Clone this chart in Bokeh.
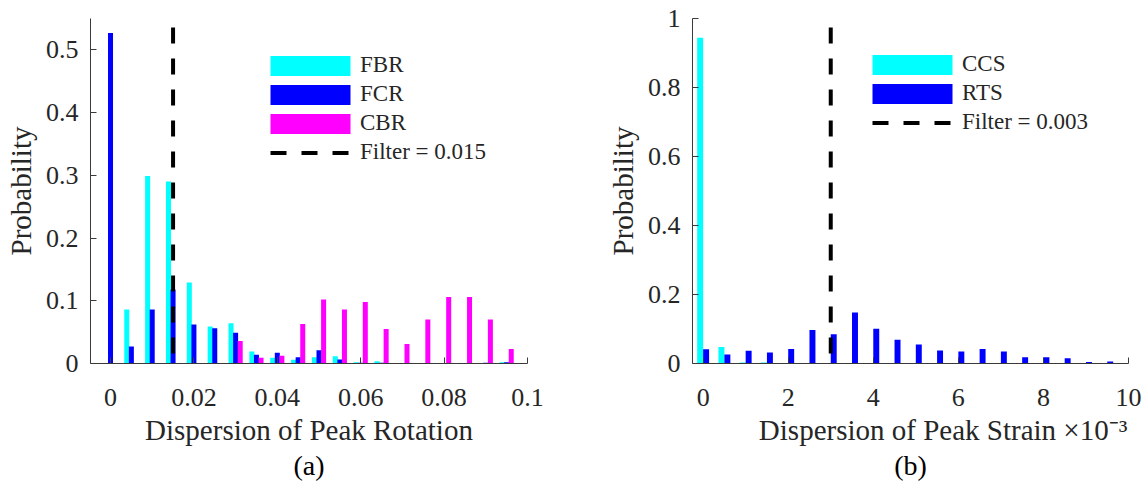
from bokeh.plotting import figure
from bokeh.models import Range1d, FixedTicker, Legend, LegendItem, Title
from bokeh.layouts import row
from bokeh.embed import file_html
from bokeh.resources import INLINE

# ---------------- data (a) ----------------
bins_a = [0.000, 0.005, 0.010, 0.015, 0.020, 0.025, 0.030, 0.035, 0.040, 0.045,
          0.050, 0.055, 0.060, 0.065, 0.070, 0.075, 0.080, 0.085, 0.090, 0.095]
fbr = [0.0, 0.086, 0.299, 0.290, 0.129, 0.059, 0.064, 0.019, 0.009, 0.006,
       0.010, 0.0115, 0.002, 0.0036, 0.0, 0.0, 0.0, 0.0, 0.0, 0.002]
fcr = [0.527, 0.027, 0.086, 0.118, 0.062, 0.056, 0.049, 0.014, 0.017, 0.010,
       0.021, 0.0063, 0.001, 0.001, 0.0, 0.0, 0.0, 0.0, 0.001, 0.002]
cbr = [0.0, 0.0, 0.0, 0.0, 0.0, 0.0, 0.036, 0.009, 0.0125, 0.063,
       0.102, 0.086, 0.098, 0.055, 0.031, 0.070, 0.106, 0.106, 0.070, 0.023]
filter_a = 0.015
xticks_a = [0, 0.02, 0.04, 0.06, 0.08, 0.1]
xlabels_a = ["0", "0.02", "0.04", "0.06", "0.08", "0.1"]
yticks_a = [0, 0.1, 0.2, 0.3, 0.4, 0.5]
ylabels_a = ["0", "0.1", "0.2", "0.3", "0.4", "0.5"]

# ---------------- data (b) ----------------  (x in units of 1e-3)
bins_b = [0.0, 0.5, 1.0, 1.5, 2.0, 2.5, 3.0, 3.5, 4.0, 4.5,
          5.0, 5.5, 6.0, 6.5, 7.0, 7.5, 8.0, 8.5, 9.0, 9.5]
ccs = [0.944, 0.048, 0.003, 0.003, 0.0, 0.0, 0.0, 0.0, 0.0, 0.0,
       0.0, 0.0, 0.0, 0.0, 0.0, 0.0, 0.0, 0.0, 0.0, 0.0]
rts = [0.041, 0.026, 0.037, 0.032, 0.042, 0.097, 0.085, 0.148, 0.101, 0.069,
       0.055, 0.038, 0.035, 0.042, 0.035, 0.018, 0.018, 0.015, 0.004, 0.006]
filter_b = 3.0
xticks_b = [0, 2, 4, 6, 8, 10]
xlabels_b = ["0", "2", "4", "6", "8", "10"]
yticks_b = [0, 0.2, 0.4, 0.6, 0.8, 1.0]
ylabels_b = ["0", "0.2", "0.4", "0.6", "0.8", "1"]

FONT = "Liberation Serif"
TICK_FS = "26px"
LABEL_FS = "29px"
LEG_FS = "23px"
CAP_FS = "28px"
AX_COL = "#3a3a3a"
TXT_COL = "#262626"


def style_axes(p, xt, xl, yt, yl):
    for ax in (p.xaxis[0], p.yaxis[0]):
        ax.axis_line_color = AX_COL
        ax.axis_line_width = 1
        ax.major_tick_line_color = AX_COL
        ax.major_tick_in = 6
        ax.major_tick_out = 0
        ax.minor_tick_line_color = None
        ax.major_label_text_font = FONT
        ax.major_label_text_font_size = TICK_FS
        ax.major_label_text_color = TXT_COL
        ax.axis_label_text_font = FONT
        ax.axis_label_text_font_size = LABEL_FS
        ax.axis_label_text_font_style = "normal"
        ax.axis_label_text_color = TXT_COL
    p.xaxis[0].ticker = FixedTicker(ticks=xt)
    p.xaxis[0].major_label_overrides = {t: s for t, s in zip(xt, xl)}
    p.yaxis[0].ticker = FixedTicker(ticks=yt)
    p.yaxis[0].major_label_overrides = {t: s for t, s in zip(yt, yl)}
    p.xaxis[0].major_label_standoff = 25
    p.xaxis[0].axis_label_standoff = 5
    p.yaxis[0].major_label_standoff = 12
    p.yaxis[0].axis_label_standoff = 6
    p.xgrid.visible = False
    p.ygrid.visible = False
    p.outline_line_color = None


def style_legend(lg):
    lg.glyph_width = 100
    lg.glyph_height = 25
    lg.label_height = 25
    lg.spacing = 3
    lg.padding = 0
    lg.margin = 0
    lg.label_standoff = 0
    lg.label_text_font = FONT
    lg.label_text_font_size = LEG_FS
    lg.label_text_color = TXT_COL
    lg.label_text_baseline = "middle"
    lg.background_fill_alpha = 0
    lg.border_line_color = None


# ---------------- panel (a) ----------------
pa = figure(width=570, height=501, output_backend="svg", toolbar_location=None,
            x_range=Range1d(-0.0048, 0.1), y_range=Range1d(0, 0.55),
            min_border_left=90, min_border_right=43, min_border_top=17,
            min_border_bottom=132)
pa.xaxis.axis_label = "Dispersion of Peak Rotation"
pa.yaxis.axis_label = "Probability"
style_axes(pa, xticks_a, xlabels_a, yticks_a, ylabels_a)

off_a = 0.0011
w_a = 0.0012
r1 = pa.vbar(x=[b - off_a for b in bins_a], top=fbr, width=w_a, color="#00FFFF", line_color=None)
r2 = pa.vbar(x=bins_a, top=fcr, width=w_a, color="#0000FF", line_color=None)
r3 = pa.vbar(x=[b + off_a for b in bins_a], top=cbr, width=w_a, color="#FF00FF", line_color=None)
r4 = pa.line(x=[filter_a, filter_a], y=[0, 0.55], line_color="black", line_width=4,
             line_dash="16 15", line_dash_offset=21)
leg_a = Legend(items=[LegendItem(label="FBR", renderers=[r1]),
                      LegendItem(label="FCR", renderers=[r2]),
                      LegendItem(label="CBR", renderers=[r3]),
                      LegendItem(label="Filter = 0.015", renderers=[r4])],
               location=(170, 198))
style_legend(leg_a)
pa.add_layout(leg_a, "center")
pa.add_layout(Title(text="(a)", align="center", text_font=FONT, text_font_size=CAP_FS,
                    text_font_style="normal", text_color="black", standoff=-2), "below")

# ---------------- panel (b) ----------------
pb = figure(width=577, height=501, output_backend="svg", toolbar_location=None,
            x_range=Range1d(-0.25, 10), y_range=Range1d(0, 1.0),
            min_border_left=122, min_border_right=19, min_border_top=18,
            min_border_bottom=138)
style_axes(pb, xticks_b, xlabels_b, yticks_b, ylabels_b)
pb.yaxis.axis_label = "Probability"
pb.xaxis[0].axis_label = ("\u00a0" * 9) + "Dispersion of Peak Strain\u00a0\u00d710\u207b\u00b3"

off_b = 0.07
w_b = 0.14
q1 = pb.vbar(x=[b - off_b for b in bins_b], top=ccs, width=w_b, color="#00FFFF", line_color=None)
q2 = pb.vbar(x=[b + off_b for b in bins_b], top=rts, width=w_b, color="#0000FF", line_color=None)
q3 = pb.line(x=[filter_b, filter_b], y=[0, 1.0], line_color="black", line_width=4,
             line_dash="16 15", line_dash_offset=21)
leg_b = Legend(items=[LegendItem(label="CCS", renderers=[q1]),
                      LegendItem(label="RTS", renderers=[q2]),
                      LegendItem(label="Filter = 0.003", renderers=[q3])],
               location=(170, 228))
style_legend(leg_b)
pb.add_layout(leg_b, "center")
pb.add_layout(Title(text="(b)", align="center", text_font=FONT, text_font_size=CAP_FS,
                    text_font_style="normal", text_color="black", standoff=-2), "below")

layout = row(pa, pb)
open("out.html", "w").write(file_html(layout, INLINE))
